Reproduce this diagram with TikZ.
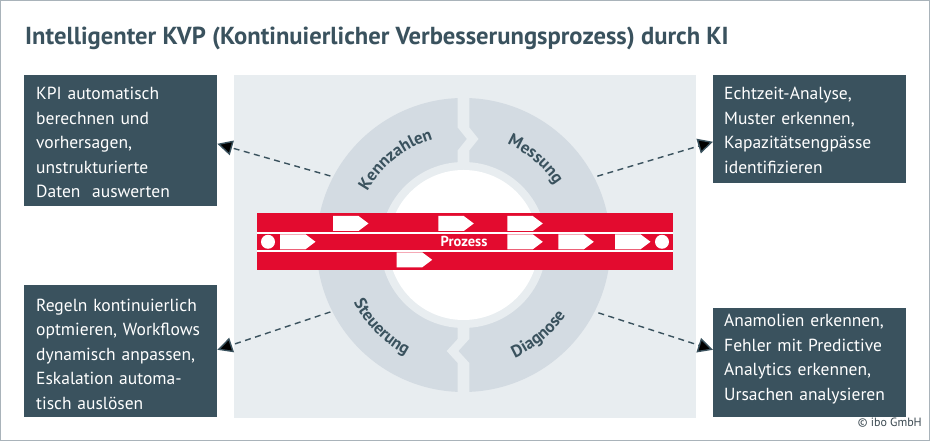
\documentclass[tikz,border=0pt]{standalone}
\usepackage{fontspec}
\setmainfont{PT Sans}
\usetikzlibrary{arrows.meta,calc,decorations.text}
\definecolor{slate}{HTML}{3A525E}
\definecolor{panel}{HTML}{E8EDF0}
\definecolor{ringc}{HTML}{D3DBE2}
\definecolor{kred}{HTML}{E30B2F}
\definecolor{framec}{HTML}{A9B3BA}
\definecolor{copyc}{HTML}{3C4A52}
\begin{document}
\begin{tikzpicture}[x=1pt,y=1pt,
  infobox/.style={fill=slate, draw=none, inner sep=0, anchor=south west},
  boxtext/.style={text=white, text width=190pt, align=left, inner sep=0, anchor=base west,
    font=\fontsize{17.5}{24.5}\selectfont},
  conn/.style={draw=slate, line width=1.4pt, dash pattern=on 6pt off 4.5pt,
    -{Triangle[length=15pt,width=15pt]}},
  chev/.pic={\fill[white] (0,-7.5) -- (25.5,-7.5) -- (35.5,0) -- (25.5,7.5) -- (0,7.5) -- cycle;},
  ringlabel/.style={decorate, decoration={text along path, text align=center,
    text color=slate, text={|\bfseries\fontsize{17}{17}\selectfont|#1}}}
]
\useasboundingbox (0,0) rectangle (930,441);
\fill[white] (0,0) rectangle (930,441);
\draw[framec, line width=1.2pt] (0.6,0.6) rectangle (929.4,440.4);

% title
\node[anchor=base west, inner sep=0, text=slate, font=\bfseries\fontsize{24.6}{24.6}\selectfont] (title) at (25,396)
  {Intelligenter KVP (Kontinuierlicher Verbesserungsprozess) durch KI};

% panel
\fill[panel] (234,23) rectangle (696,366);

% ring
\coordinate (c) at (463.5,196);
\fill[ringc] (c) circle[radius=147];
\fill[panel] (c) circle[radius=83];
\fill[white] (c) circle[radius=75];
% gaps with notches
\fill[panel] (457.7,346) -- (457.7,313.5) -- (466.9,302) -- (457.7,290.5) -- (457.7,276)
  -- (469.3,276) -- (469.3,290.5) -- (478.5,302) -- (469.3,313.5) -- (469.3,346) -- cycle;
\fill[panel] (457.7,116) -- (457.7,102) -- (446.7,90) -- (457.7,78) -- (457.7,44)
  -- (469.3,44) -- (469.3,78) -- (458.3,90) -- (469.3,102) -- (469.3,116) -- cycle;

% ring labels
\path[ringlabel=Kennzahlen] ($(c)+(175:110)$) arc[start angle=175, end angle=82, radius=110];
\path[ringlabel=Messung] ($(c)+(98:110)$) arc[start angle=98, end angle=2, radius=110];
\path[ringlabel=Steuerung] ($(c)+(180:124)$) arc[start angle=180, end angle=270, radius=124];
\path[ringlabel=Diagnose] ($(c)+(265:124)$) arc[start angle=265, end angle=355, radius=124];

% process band
\fill[kred] (257,171) rectangle (673,228);
\draw[white, line width=1.7pt] (257,207.8) -- (673,207.8);
\draw[white, line width=1.7pt] (257,190.3) -- (673,190.3);
\pic at (333,217.5) {chev};
\pic at (438.3,217.5) {chev};
\pic at (507.3,217.5) {chev};
\pic at (280,199.2) {chev};
\pic at (507.3,199.2) {chev};
\pic at (558.3,199.2) {chev};
\pic at (615,199.2) {chev};
\pic at (396.7,181.2) {chev};
\fill[white] (268,199.2) circle[radius=7];
\fill[white] (662,199.2) circle[radius=7];
\node[text=white, inner sep=0, font=\bfseries\fontsize{14.5}{14.5}\selectfont] (proz) at (464,199.2) {Prozess};

% boxes
\node[infobox, minimum width=193, minimum height=131] (tl) at (24,235) {};
\node[infobox, minimum width=193, minimum height=108] (tr) at (713,258) {};
\node[infobox, minimum width=193, minimum height=132] (bl) at (24,24) {};
\node[infobox, minimum width=193, minimum height=109] (br) at (713,24) {};

\node[boxtext] (tltxt) at (36,341) {KPI automatisch\\berechnen und\\vorhersagen,\\unstrukturierte\\Daten\ \ auswerten};
\node[boxtext] (trtxt) at (724,341) {Echtzeit-Analyse,\\Muster erkennen,\\Kapazitätsengpässe\\identifizieren};
\node[boxtext] (bltxt) at (36,129.5) {Regeln kontinuierlich\\optmieren, Workflows\\dynamisch anpassen,\\Eskalation automa-\\tisch auslösen};
\node[boxtext] (brtxt) at (724,114) {Anamolien erkennen,\\Fehler mit Predictive\\Analytics erkennen,\\Ursachen analysieren};

% connectors
\coordinate (kS) at ($(c)+(152.6:150)$);
\coordinate (mS) at ($(c)+(27.2:150.5)$);
\coordinate (sS) at ($(c)+(206.7:149)$);
\coordinate (dS) at ($(c)+(333.3:151)$);
\draw[conn] (kS) -- ([yshift=-3.5pt]tl.east);
\draw[conn] (mS) -- ([yshift=-13pt]tr.west);
\draw[conn] (sS) -- ([yshift=1pt]bl.east);
\draw[conn] (dS) -- ([yshift=12.5pt]br.west);

% copyright
\node[anchor=base east, inner sep=0, text=copyc, font=\fontsize{12}{12}\selectfont] (copy) at (922,14) {© ibo GmbH};
\end{tikzpicture}
\end{document}
